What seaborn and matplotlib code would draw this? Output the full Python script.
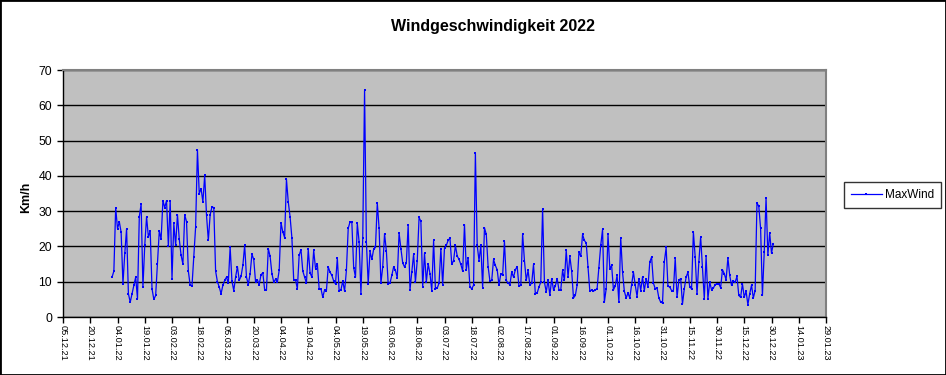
import numpy as np
import pandas as pd
import matplotlib
matplotlib.use("Agg")
import matplotlib.pyplot as plt
import seaborn as sns
from matplotlib.patches import Rectangle

# ---------------- data ----------------
start_date = "2022-01-01"
max_wind = [
    11.3, 13, 31, 25, 27, 24, 9.4, 18, 25, 6.6,
    4.2, 6.6, 9, 11.3, 5.2, 28.4, 32, 8.5, 20.3, 28.4,
    22.7, 24.4, 8, 5, 6.1, 15, 24.4, 22, 33, 31,
    33, 20, 33, 10.8, 26.5, 20.3, 29, 22, 17.5, 15,
    29, 27, 13, 9, 8.8, 17, 25.5, 47.3, 35, 36.4,
    32.6, 40.2, 28.8, 21.7, 29, 31.2, 31, 13, 10, 8.5,
    6.6, 9, 10.4, 11.3, 9.6, 19.8, 10.2, 7.5, 11.3, 14.3,
    10.4, 11.5, 14.6, 20.3, 11.3, 9.2, 12.3, 17.8, 16.3, 9.9,
    10.5, 9.2, 12, 12.5, 7.7, 7.7, 19.4, 17.2, 12.3, 9.9,
    10.7, 9.9, 13.2, 26.7, 24.1, 22.5, 39, 32.6, 28.4, 22.4,
    10.4, 10.5, 8, 17.5, 19.1, 13, 11.3, 9.6, 19.2, 12.5,
    11.3, 18.9, 13.7, 15.1, 8, 8, 5.6, 7.7, 7.5, 14.2,
    12.7, 11.8, 10.2, 9.4, 16.7, 7.5, 7.7, 10.2, 7.3, 13.2,
    25.1, 27, 26.8, 14, 11.3, 26.5, 21.3, 6.6, 22.4, 64.2,
    21.3, 9.4, 18.6, 16.3, 19.2, 19.7, 32.3, 25.1, 9.6, 14.2,
    23.6, 18.7, 9.4, 9.6, 11.8, 14.2, 13.2, 11.1, 23.8, 19.4,
    15.3, 14.2, 15.4, 26.1, 7.7, 12.7, 17.8, 9.9, 16, 28.2,
    27.1, 8.5, 18.1, 9.9, 15.1, 12.3, 7.5, 21.7, 8, 8.2,
    9.6, 19.4, 9, 19.6, 20.3, 21.7, 22.4, 14.9, 16, 20.3,
    17.3, 16.3, 14.9, 13, 26.2, 13.4, 16.8, 8.5, 8, 9,
    46.5, 20.3, 16, 20.3, 8.2, 25.3, 23.4, 14.3, 10.2, 10.4,
    16.3, 14.6, 13.4, 9, 12.3, 11.8, 21.4, 10.4, 9.6, 9.2,
    12.7, 11.3, 13.4, 14.3, 8.7, 9, 23.6, 16, 10.4, 13.2,
    9, 9.6, 14.9, 6.6, 6.8, 8.5, 9.9, 30.7, 9.9, 7.1,
    10.5, 6.1, 10.9, 7.7, 8.8, 10.9, 7.7, 7.7, 13.2, 10.4,
    18.9, 11.3, 17.2, 13, 5.4, 6.1, 9, 18.4, 17.2, 23.4,
    21.7, 21, 14.3, 7.3, 7.7, 7.3, 7.7, 8, 14, 20.3,
    24.8, 4.2, 8, 23.4, 13.7, 14.6, 7.7, 8.8, 11.8, 4.2,
    22.5, 12.7, 7.3, 5.4, 6.8, 5.4, 9.2, 12.7, 9, 5.8,
    10.9, 7.5, 11.3, 7.5, 10.9, 8.5, 15.6, 17, 9.6, 8,
    8.2, 5.4, 4.2, 4, 15.6, 19.7, 8.7, 8.5, 7.5, 7.5,
    16.8, 5.6, 10.4, 10.9, 3.7, 8, 11.3, 12.7, 8.5, 8,
    24.1, 17, 6.4, 15.6, 22.7, 14.2, 5.2, 17.2, 5.2, 9.9,
    7.7, 8.2, 9.2, 9.4, 9.4, 8.3, 13.4, 12.3, 10.5, 16.8,
    11.8, 9, 10.2, 9.9, 11.5, 6.1, 5.6, 9.4, 5.6, 7.3,
    3.5, 6.6, 9, 5.4, 7.5, 32.3, 31.4, 25.1, 6.1, 18.4,
    33.8, 17.5, 23.8, 18.1, 20.8,
]
x_start = "2021-12-05"
x_end = "2023-01-29"
y_ticks = [0, 10, 20, 30, 40, 50, 60, 70]
title = "Windgeschwindigkeit 2022"
y_label = "Km/h"
series_name = "MaxWind"

# ---------------- figure ----------------
plt.rcParams["font.family"] = ["Liberation Sans", "DejaVu Sans"]
W, H = 946, 375
fig = plt.figure(figsize=(W / 100, H / 100), dpi=100)
fig.patch.set_facecolor("white")

left, right, top, bottom = 63, 826, 70, 317
ax = fig.add_axes([left / W, 1 - bottom / H, (right - left) / W, (bottom - top) / H])
ax.set_facecolor("#C0C0C0")

df = pd.DataFrame({
    "Datum": pd.date_range(start_date, periods=len(max_wind), freq="D"),
    series_name: max_wind,
})
sns.lineplot(data=df, x="Datum", y=series_name, ax=ax, color="#0000FF",
             linewidth=0.9, marker="s", markersize=1.6, markeredgewidth=0,
             label=series_name, zorder=3)

ax.set_xlim(pd.Timestamp(x_start), pd.Timestamp(x_end))
ax.set_ylim(0, 70)
ticks = pd.date_range(x_start, x_end, freq="15D")
ax.set_xticks(ticks)
ax.set_xticklabels([t.strftime("%d.%m.%y") for t in ticks], rotation=-90,
                   fontsize=6.6, ha="center", va="top")
ax.set_yticks(y_ticks)
ax.set_yticklabels([str(v) for v in y_ticks], fontsize=8.8)
ax.set_xlabel("")
ax.set_ylabel("")

ax.yaxis.grid(True, color="black", linewidth=1.0)
ax.xaxis.grid(False)
ax.set_axisbelow(True)
for s in ["left", "bottom"]:
    ax.spines[s].set_color("black")
    ax.spines[s].set_linewidth(1.0)
for s in ["top", "right"]:
    ax.spines[s].set_color("#808080")
    ax.spines[s].set_linewidth(1.5)
ax.tick_params(axis="x", direction="out", length=4, width=1, color="black", pad=1.5)
ax.tick_params(axis="y", direction="out", length=4, width=1, color="black", pad=4)

# legend
ax.get_legend().remove()
handles, labels = ax.get_legend_handles_labels()
leg = fig.legend(handles, labels, loc="center",
                 bbox_to_anchor=((845 + 940) / 2 / W, 1 - 195 / H),
                 bbox_transform=fig.transFigure, frameon=True, fancybox=False,
                 fontsize=8.5, handlelength=2.6, borderpad=0.6, handletextpad=0.3)
leg.get_frame().set_edgecolor("black")
leg.get_frame().set_linewidth(1.0)

fig.text(493 / W, 1 - 27 / H, title, fontsize=11.5, fontweight="bold",
         ha="center", va="center")
fig.text(26 / W, 1 - 197 / H, y_label, fontsize=9, fontweight="bold",
         rotation=90, ha="center", va="center")

fig.add_artist(Rectangle((0, 0), 1, 1, transform=fig.transFigure, fill=False,
                         edgecolor="black", linewidth=2))

fig.savefig("out.png", dpi=100)
